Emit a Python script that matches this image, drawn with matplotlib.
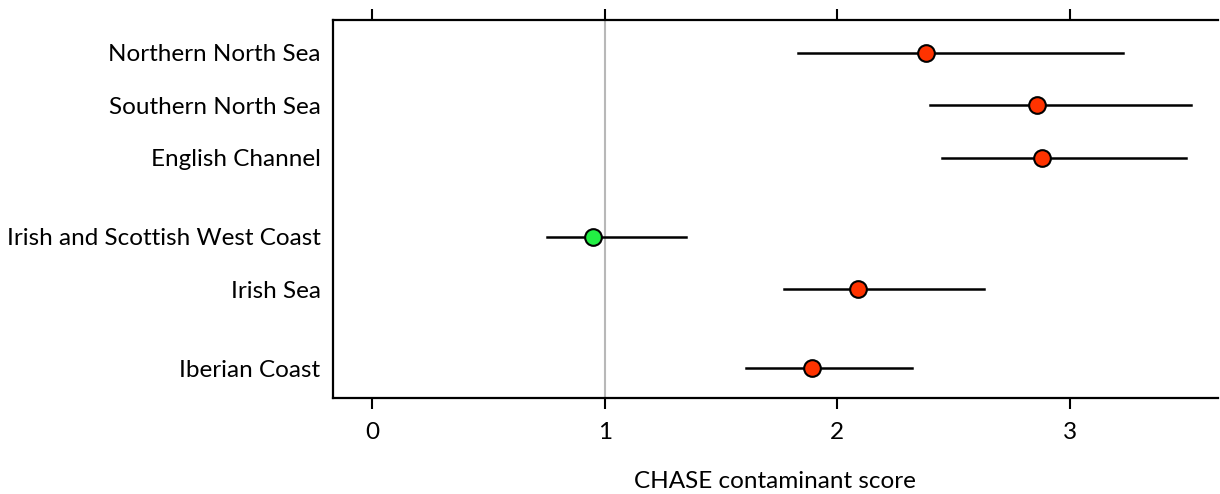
import matplotlib
matplotlib.use("Agg")
import matplotlib.pyplot as plt
import numpy as np

# data
regions = ['Northern North Sea', 'Southern North Sea', 'English Channel',
           'Irish and Scottish West Coast', 'Irish Sea', 'Iberian Coast']
row_pos = [0, 1, 2, 3.5, 4.5, 6]
score = [2.38, 2.86, 2.88, 0.95, 2.09, 1.89]
lower = [1.83, 2.40, 2.45, 0.75, 1.77, 1.61]
upper = [3.23, 3.52, 3.50, 1.35, 2.63, 2.32]
status = ['bad', 'bad', 'bad', 'good', 'bad', 'bad']
colors = {'bad': '#ff3300', 'good': '#22ee44'}

plt.rcParams['font.family'] = ['Lato', 'DejaVu Sans']

fig = plt.figure(figsize=(12.2, 4.94), dpi=100)
ax = fig.add_axes([0.273, 0.194, 0.725, 0.766])

ax.axvline(1, color='#b8b8b8', lw=1.5, zorder=1)

for y, s, lo, hi, st in zip(row_pos, score, lower, upper, status):
    ax.plot([lo, hi], [y, y], color='black', lw=1.8, zorder=2)
    ax.plot(s, y, 'o', ms=12, mfc=colors[st], mec='black', mew=1.5, zorder=3)

ax.set_xlim(-0.168, 3.636)
ax.set_ylim(6.57, -0.63)
ax.set_xticks([0, 1, 2, 3])
ax.set_yticks(row_pos)
ax.set_yticklabels(regions)
ax.tick_params(axis='y', length=0, pad=9, labelsize=17.5)
ax.tick_params(axis='x', which='both', top=True, bottom=True, direction='out',
               length=8, width=1.5, pad=9, labelsize=17.5)
ax.spines['right'].set_visible(False)
for sp in ['left', 'top', 'bottom']:
    ax.spines[sp].set_linewidth(1.6)

ax.set_xlabel('CHASE contaminant score', fontsize=17.5, labelpad=20)

fig.savefig('out.png', dpi=100)
